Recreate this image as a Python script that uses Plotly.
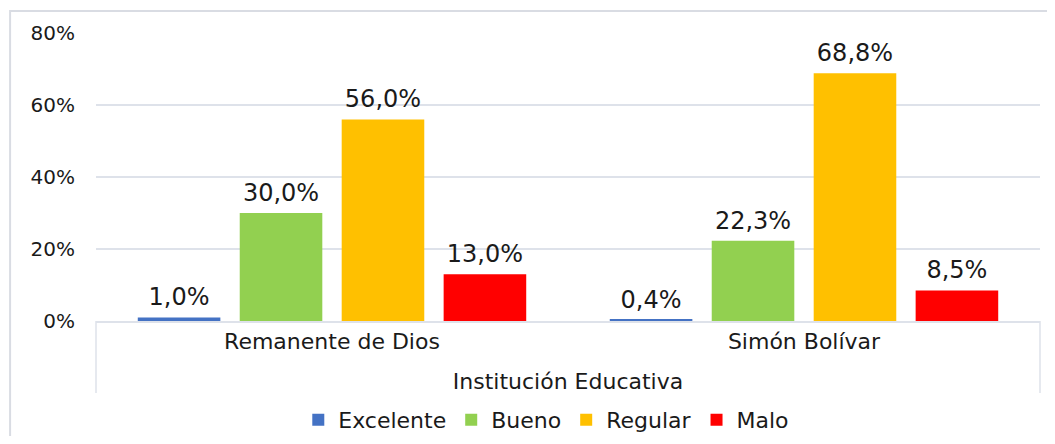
import plotly.graph_objects as go

instituciones = ["Remanente de Dios", "Simón Bolívar"]
niveles = ["Excelente", "Bueno", "Regular", "Malo"]
valores = {
    "Excelente": [0.010, 0.004],
    "Bueno": [0.300, 0.223],
    "Regular": [0.560, 0.688],
    "Malo": [0.130, 0.085],
}
colores = ["#4472C4", "#92D050", "#FFC000", "#FF0000"]

fig = go.Figure()
for nivel, color in zip(niveles, colores):
    fig.add_trace(go.Bar(
        x=instituciones, y=valores[nivel], name=nivel, offsetgroup=nivel,
        marker=dict(color=color, line=dict(width=0)),
    ))
# value labels as text-only scatter, grouped like the bars, so they sit a bit higher
for nivel in niveles:
    fig.add_trace(go.Scatter(
        x=instituciones, y=valores[nivel], offsetgroup=nivel, showlegend=False,
        mode="markers+text", marker=dict(size=8, opacity=0),
        texttemplate="%{y:.1%}", textposition="top center",
        textfont=dict(size=24, color="#1a1a1a"),
        cliponaxis=False, hoverinfo="skip",
    ))

grid = "#DEE2EA"
# page body adds 8px on every side, so the figure is 16px smaller than the window
fig.update_layout(
    width=1039, height=428,
    margin=dict(l=88, r=7, t=25, b=115, autoexpand=False),
    paper_bgcolor="white", plot_bgcolor="white",
    separators=",.",
    font=dict(family="DejaVu Sans", size=20, color="#1a1a1a"),
    barmode="group", bargap=0.136, bargroupgap=0.19,
    scattermode="group", scattergap=0.136,
    showlegend=True,
    legend=dict(orientation="h", x=0.477, xanchor="center", y=-0.344, yanchor="middle",
                font=dict(size=22), itemwidth=30, traceorder="normal"),
    xaxis=dict(
        showline=True, linecolor=grid, linewidth=1.5,
        tickfont=dict(size=22), ticks="",
        title=dict(text="Institución Educativa", font=dict(size=22), standoff=20),
        automargin=False,
    ),
    yaxis=dict(
        range=[0, 0.8], dtick=0.2, tickformat=".0%",
        showgrid=True, gridcolor=grid, gridwidth=1.5,
        zeroline=False, tickfont=dict(size=20),
        ticklabelstandoff=20, automargin=False,
    ),
    shapes=[
        dict(type="rect", xref="paper", yref="paper", x0=-0.091, x1=1.05,
             y0=-0.5, y1=1.076, line=dict(color="#D9DCE3", width=2)),
        dict(type="line", xref="paper", yref="paper", x0=0, x1=0, y0=0, y1=-0.25,
             line=dict(color=grid, width=1.5)),
        dict(type="line", xref="paper", yref="paper", x0=1, x1=1, y0=0, y1=-0.25,
             line=dict(color=grid, width=1.5)),
    ],
)

fig.write_html("out.html")
